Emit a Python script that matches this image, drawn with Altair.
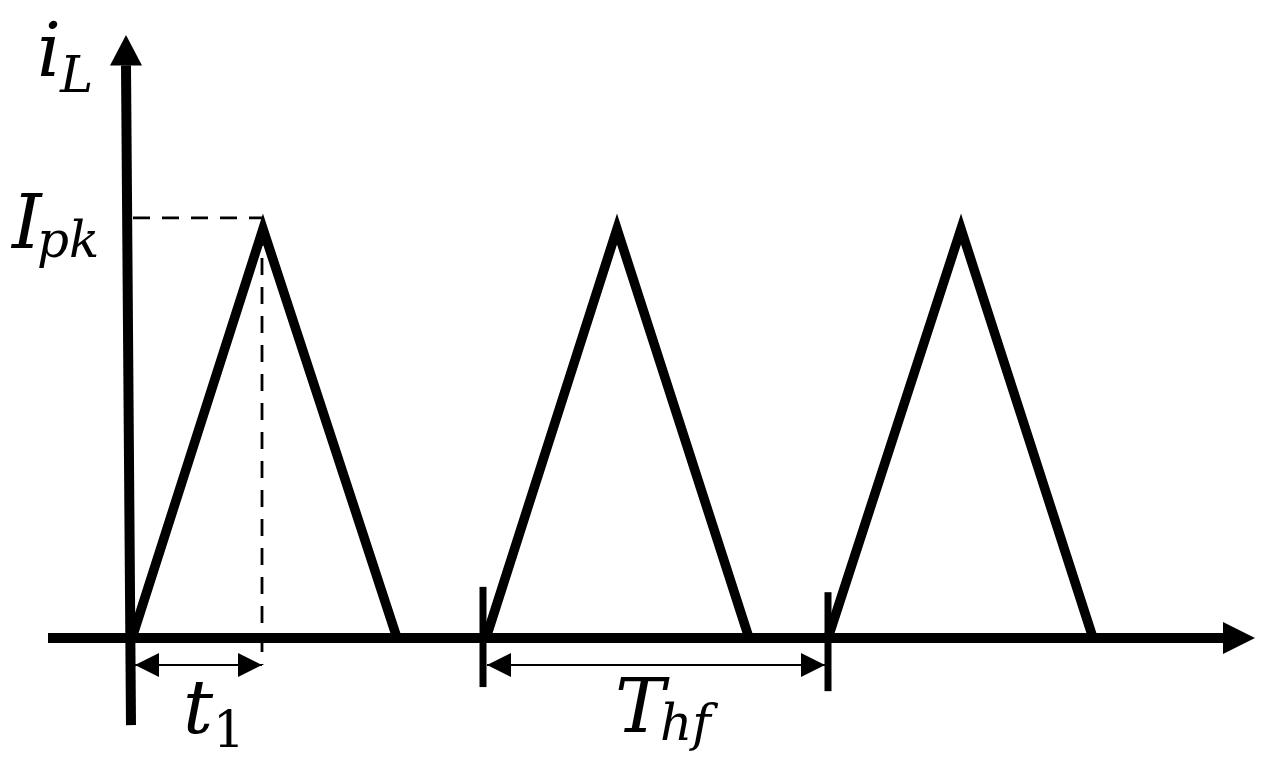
import altair as alt
import pandas as pd

# ---- data (time in arbitrary units, current normalised to I_pk = 1) ----
pulse_id = ["p1", "p1", "p1", "p2", "p2", "p2", "p3", "p3", "p3"]
pulse_t = [0.0, 1.31, 2.65, 3.54, 4.85, 6.17, 6.96, 8.29, 9.61]
pulse_i = [0.0, 1.0, 0.0, 0.0, 1.0, 0.0, 0.0, 1.0, 0.0]
pulse_k = [0, 1, 2, 0, 1, 2, 0, 1, 2]

# axes (x from, x to, y from, y to)
axis_x1 = [-0.84, -0.01]
axis_x2 = [10.95, -0.06]
axis_y1 = [0.0, -0.213]
axis_y2 = [0.0, 1.40]

# arrow tips of the axes
tip_right_t = [11.23]
tip_right_i = [0.0]
tip_up_t = [-0.06]
tip_up_i = [1.474]

# dashed guides at the first peak
dash_x1 = [0.01, 1.30]
dash_x2 = [1.31, 1.30]
dash_y1 = [1.027, 1.0]
dash_y2 = [1.027, -0.066]

# dimension lines t1 and T_hf
dim_x1 = [0.03, 3.55]
dim_x2 = [1.30, 6.93]
dim_y = [-0.066, -0.066]

# period tick marks
tick_t = [3.51, 6.96]
tick_lo = [-0.120, -0.130]
tick_hi = [0.125, 0.112]

# labels
main_text = ["i", "I", "t", "T"]
main_t = [-0.95, -1.20, 0.51, 4.83]
main_i = [1.374, 0.954, -0.232, -0.230]
sub_text = ["L", "pk", "hf"]
sub_t = [-0.72, -0.95, 5.28]
sub_i = [1.335, 0.932, -0.249]
num_text = ["1"]
num_t = [0.81]
num_i = [-0.267]

# ---- scales ----
xs = alt.Scale(domain=[-1.24, 11.24], nice=False, zero=False)
ys = alt.Scale(domain=[-0.2983, 1.5403], nice=False, zero=False)

def X(f):
    return alt.X(f, type="quantitative", scale=xs, axis=None)

def Y(f):
    return alt.Y(f, type="quantitative", scale=ys, axis=None)

pulses = pd.DataFrame({"id": pulse_id, "t": pulse_t, "i": pulse_i, "k": pulse_k})
axes = pd.DataFrame({"x1": axis_x1, "x2": axis_x2, "y1": axis_y1, "y2": axis_y2})
dashes = pd.DataFrame({"x1": dash_x1, "x2": dash_x2, "y1": dash_y1, "y2": dash_y2})
dims = pd.DataFrame({"x1": dim_x1, "x2": dim_x2, "y": dim_y})
ticks = pd.DataFrame({"t": tick_t, "lo": tick_lo, "hi": tick_hi})

pulse_layer = alt.Chart(pulses).mark_line(
    color="black", strokeWidth=9.5, strokeJoin="miter", strokeCap="butt"
).encode(x=X("t"), y=Y("i"), detail="id:N", order="k:Q")

axis_layer = alt.Chart(axes).mark_rule(color="black", strokeWidth=10, strokeCap="butt").encode(
    x=X("x1"), x2="x2", y=Y("y1"), y2="y2"
)

right_tip = alt.Chart(pd.DataFrame({"t": tip_right_t, "i": tip_right_i})).mark_point(
    shape="M0,0L-2,-1L-2,1Z", size=1024, filled=True, color="black", opacity=1
).encode(x=X("t"), y=Y("i"))

up_tip = alt.Chart(pd.DataFrame({"t": tip_up_t, "i": tip_up_i})).mark_point(
    shape="M0,0L-1,1.9L1,1.9Z", size=1024, filled=True, color="black", opacity=1
).encode(x=X("t"), y=Y("i"))

dash_layer = alt.Chart(dashes).mark_rule(color="black", strokeWidth=2.8, strokeDash=[17, 12]).encode(
    x=X("x1"), x2="x2", y=Y("y1"), y2="y2"
)

dim_layer = alt.Chart(dims).mark_rule(color="black", strokeWidth=2).encode(
    x=X("x1"), x2="x2", y=Y("y")
)

dim_left = alt.Chart(dims).mark_point(
    shape="M0,0L2,-1L2,1Z", size=576, filled=True, color="black", opacity=1
).encode(x=X("x1"), y=Y("y"))

dim_right = alt.Chart(dims).mark_point(
    shape="M0,0L-2,-1L-2,1Z", size=576, filled=True, color="black", opacity=1
).encode(x=X("x2"), y=Y("y"))

tick_layer = alt.Chart(ticks).mark_rule(color="black", strokeWidth=7, strokeCap="butt").encode(
    x=X("t"), y=Y("lo"), y2="hi"
)

main_labels = alt.Chart(pd.DataFrame({"s": main_text, "t": main_t, "i": main_i})).mark_text(
    font="DejaVu Serif", fontStyle="italic", fontSize=75, align="left", baseline="alphabetic", color="black"
).encode(x=X("t"), y=Y("i"), text="s:N")

sub_labels = alt.Chart(pd.DataFrame({"s": sub_text, "t": sub_t, "i": sub_i})).mark_text(
    font="DejaVu Serif", fontStyle="italic", fontSize=50, align="left", baseline="alphabetic", color="black"
).encode(x=X("t"), y=Y("i"), text="s:N")

num_labels = alt.Chart(pd.DataFrame({"s": num_text, "t": num_t, "i": num_i})).mark_text(
    font="DejaVu Serif", fontSize=50, align="left", baseline="alphabetic", color="black"
).encode(x=X("t"), y=Y("i"), text="s:N")

chart = alt.layer(
    dash_layer, pulse_layer, axis_layer, right_tip, up_tip,
    dim_layer, dim_left, dim_right, tick_layer,
    main_labels, sub_labels, num_labels,
).properties(
    width=1248, height=752, padding=0,
    autosize=alt.AutoSizeParams(type="none"),
).configure_view(stroke=None)

chart.save("out.html", embed_options={"renderer": "svg", "actions": False})
